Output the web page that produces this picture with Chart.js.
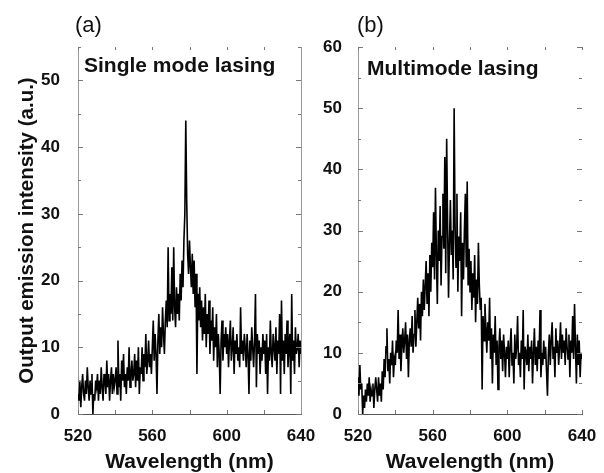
<!DOCTYPE html>
<html lang="en">
<head>
  <meta charset="UTF-8">
  <title>Single mode vs multimode lasing</title>
  <script src="https://cdn.jsdelivr.net/npm/chart.js"></script>
  <style>
    html, body { margin: 0; padding: 0; background: #fff; }
    body { width: 604px; height: 473px; position: relative; overflow: hidden;
           font-family: "Liberation Sans", Arial, sans-serif; color: #111; }
    .panel { position: absolute; top: 0; height: 473px; }
    .tag { position: absolute; font-size: 22px; font-weight: normal; }
    .inner { position: absolute; font-size: 21px; font-weight: bold; white-space: nowrap; }
  </style>
</head>
<body>

  <div class="panel" style="left:0; width:330px;"><canvas id="chartA"></canvas></div>
  <div class="panel" style="left:300px; width:304px;"><canvas id="chartB"></canvas></div>

  <div class="tag" style="left:75px; top:12px;">(a)</div>
  <div class="tag" style="left:357px; top:12px;">(b)</div>
  <div class="inner" style="left:84px; top:53px;">Single mode lasing</div>
  <div class="inner" style="left:367px; top:56px;">Multimode lasing</div>

  <script>
    // wavelength grid (nm): 520 .. 640, 0.5 nm steps
    const WL_START = 520;
    const WL_STEP = 0.5;

    const xTicks = [520, 560, 600, 640];
    const yTicksA = [0, 10, 20, 30, 40, 50];
    const yTicksB = [0, 10, 20, 30, 40, 50, 60];

    // (a) single mode lasing, one row = 10 nm
    const singleMode = [
      3, 2, 5, 1, 4, 6, 3, 2, 5, 3, 7, 4, 2, 5, 3, 6, 0, 3, 2, 5,
      4, 6, 2, 5, 3, 7, 4, 2, 6, 5, 3, 8, 4, 6, 2, 5, 7, 3, 6, 4,
      5, 7, 3, 11, 4, 6, 2, 8, 5, 9, 4, 6, 3, 7, 5, 10, 4, 6, 8, 5,
      6, 9, 4, 8, 5, 10, 3, 7, 6, 10, 5, 9, 7, 12, 6, 8, 11, 7, 9, 6,
      10, 14, 8, 12, 9, 3, 11, 15, 9, 13, 10, 16, 12, 9, 14, 17, 13, 25, 14, 18,
      15, 22, 14, 25, 16, 13, 19, 15, 18, 14, 21, 17, 23, 19, 26, 30, 44, 32, 24, 21,
      26, 22, 19, 24, 18, 23, 16, 21, 6, 18, 14, 19, 13, 17, 11, 16, 12, 18, 10, 15,
      12, 17, 9, 14, 11, 16, 8, 13, 10, 15, 7, 12, 9, 3, 11, 14, 8, 12, 10, 13,
      9, 12, 7, 11, 14, 8, 10, 13, 6, 11, 9, 12, 8, 10, 7, 16, 9, 11, 8, 12,
      10, 7, 12, 9, 3, 11, 8, 13, 10, 7, 11, 18, 4, 12, 9, 11, 6, 10, 8, 12,
      9, 11, 6, 12, 3, 10, 8, 14, 9, 7, 12, 10, 8, 13, 6, 11, 9, 15, 3, 17,
      8, 11, 6, 12, 9, 14, 7, 10, 12, 3, 18, 8, 11, 6, 13, 9, 10, 12, 7, 11,
      9
    ];

    // (b) multimode lasing
    const multiMode = [
      6, 3, 8, 4, 5, 0, 3, 1, 4, 2, 5, 3, 6, 2, 4, 3, 5, 1, 4, 6,
      4, 2, 6, 3, 5, 2, 7, 4, 9, 6, 11, 14, 7, 9, 5, 10, 8, 12, 6, 9,
      8, 12, 10, 17, 9, 13, 7, 11, 14, 10, 12, 15, 9, 13, 6, 12, 14, 11, 16, 10,
      13, 17, 11, 15, 19, 14, 18, 12, 20, 16, 22, 17, 21, 25, 18, 23, 16, 26, 20, 28,
      24, 33, 22, 37, 26, 18, 30, 25, 34, 21, 29, 36, 27, 42, 23, 45, 31, 19, 28, 35,
      26, 30, 22, 50, 31, 24, 36, 20, 29, 25, 33, 16, 28, 22, 30, 36, 24, 38, 21, 27,
      20, 25, 17, 23, 19, 26, 15, 22, 18, 28, 21, 17, 19, 4, 16, 12, 18, 14, 10, 15,
      12, 19, 9, 14, 5, 13, 10, 16, 8, 12, 4, 11, 14, 9, 12, 7, 13, 10, 6, 11,
      9, 12, 6, 11, 14, 8, 10, 5, 13, 9, 11, 16, 8, 10, 6, 12, 9, 17, 4, 11,
      10, 8, 13, 7, 11, 9, 12, 5, 10, 14, 8, 11, 7, 12, 9, 17, 6, 10, 8, 12,
      9, 11, 7, 3, 10, 13, 8, 12, 15, 9, 11, 6, 14, 10, 12, 8, 11, 15, 9, 13,
      10, 12, 8, 14, 11, 9, 13, 6, 12, 10, 16, 9, 18, 11, 5, 13, 8, 12, 6, 10,
      9
    ];

    const toPoints = vals => vals.map((v, i) => ({ x: WL_START + i * WL_STEP, y: v }));

    const tickFont = { family: '"Liberation Sans", Arial, sans-serif', size: 17, weight: 'bold' };
    const titleFont = { family: '"Liberation Sans", Arial, sans-serif', size: 21, weight: 'bold', lineHeight: 1 };

    // small inward tick marks round the frame, plus optional right border
    const frameTicks = {
      id: 'frameTicks',
      afterDraw(chart, args, opts) {
        const { ctx, chartArea: a, scales: { x, y } } = chart;
        ctx.save();
        ctx.strokeStyle = '#777';
        ctx.lineWidth = 1;
        ctx.beginPath();
        for (let v = x.min; v <= x.max; v += 20) {
          const px = Math.round(x.getPixelForValue(v)) + 0.5;
          ctx.moveTo(px, a.bottom); ctx.lineTo(px, a.bottom - 4);
          ctx.moveTo(px, a.top); ctx.lineTo(px, a.top + 3);
        }
        for (let v = y.min; v <= y.max; v += 5) {
          const py = Math.round(y.getPixelForValue(v)) + 0.5;
          const len = v % 10 === 0 ? 5 : 3;
          ctx.moveTo(a.left, py); ctx.lineTo(a.left + len, py);
          ctx.moveTo(a.right, py); ctx.lineTo(a.right - len, py);
        }
        ctx.stroke();
        if (opts.rightBorder) {
          ctx.strokeStyle = '#999';
          ctx.beginPath();
          ctx.moveTo(Math.round(a.right) + 0.5, a.top);
          ctx.lineTo(Math.round(a.right) + 0.5, a.bottom);
          ctx.stroke();
        }
        ctx.restore();
      }
    };

    function makeChart(id, values, yMax, yTicks, opt) {
      return new Chart(document.getElementById(id), {
        type: 'line',
        data: {
          datasets: [{
            data: toPoints(values),
            borderColor: '#000',
            borderWidth: 1.6,
            pointRadius: 0,
            tension: 0
          }]
        },
        options: {
          responsive: true,
          maintainAspectRatio: false,
          animation: false,
          layout: { padding: { top: 47, right: opt.padRight, bottom: 0, left: 0 } },
          plugins: {
            legend: { display: false },
            tooltip: { enabled: false },
            frameTicks: { rightBorder: opt.rightBorder }
          },
          scales: {
            x: {
              type: 'linear',
              min: 520, max: 640,
              grid: { display: false },
              border: { display: true, color: '#555', width: 1 },
              afterBuildTicks: s => { s.ticks = xTicks.map(v => ({ value: v })); },
              afterFit: s => { s.height = 59; },
              ticks: { color: '#111', font: tickFont, padding: 4, maxRotation: 0 },
              title: { display: true, text: 'Wavelength (nm)', color: '#111', font: titleFont, padding: { top: 4, bottom: 0 } }
            },
            y: {
              min: 0, max: yMax,
              grid: { display: false },
              border: { display: true, color: '#999', width: 1, dash: [1, 1] },
              afterBuildTicks: s => { s.ticks = yTicks.map(v => ({ value: v })); },
              afterFit: s => { s.width = opt.yWidth; },
              ticks: { color: '#111', font: tickFont, padding: opt.yPad },
              title: {
                display: opt.yTitle,
                text: 'Output emission intensity (a.u.)',
                color: '#111',
                font: { family: '"Liberation Sans", Arial, sans-serif', size: 20.5, weight: 'bold', lineHeight: 1 },
                padding: { top: 17, bottom: 0 }
              }
            }
          }
        },
        plugins: [frameTicks]
      });
    }

    makeChart('chartA', singleMode, 55, yTicksA,
      { padRight: 29, yWidth: 78, yPad: 10, yTitle: true, rightBorder: true });
    makeChart('chartB', multiMode, 60, yTicksB,
      { padRight: 22, yWidth: 58, yPad: 8, yTitle: false, rightBorder: false });
  </script>
</body>
</html>
